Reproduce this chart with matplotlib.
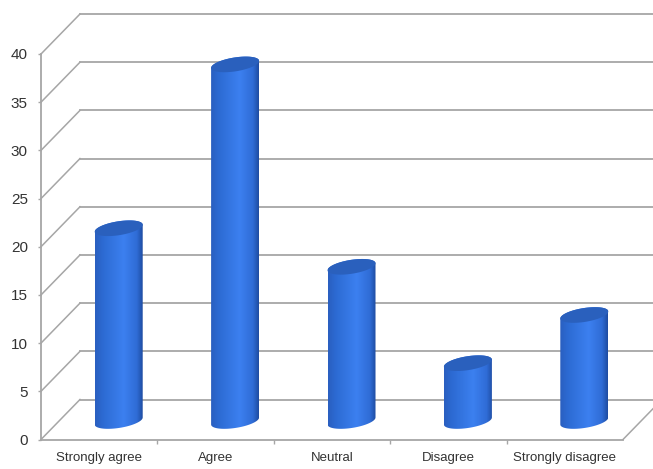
# 3D style cylinder column chart
import matplotlib
matplotlib.use('Agg')
import matplotlib.pyplot as plt
import numpy as np
from matplotlib.colors import LinearSegmentedColormap
from matplotlib.patches import PathPatch
from matplotlib.path import Path

categories = ['Strongly agree', 'Agree', 'Neutral', 'Disagree', 'Strongly disagree']
values = [20, 37, 16, 6, 11]
y_ticks = [0, 5, 10, 15, 20, 25, 30, 35, 40]

W, H = 653, 469
x_scale = (623 - 41) / 5   # px per category
y_scale = (439.5 - 54) / 40  # px per unit

# depth of the fake 3D floor, in data units
depth_x = 39 / x_scale
depth_y = 40 / y_scale

plt.rcParams['font.family'] = ['Liberation Sans', 'DejaVu Sans']

fig = plt.figure(figsize=(W / 100, H / 100), dpi=100)
ax = fig.add_axes([41 / W, 1 - 439.5 / H, 582 / W, 385.5 / H])
ax.patch.set_alpha(0)

grid_col = '#a6a6a6'
for t in y_ticks:
    ax.plot([0, depth_x], [t, t + depth_y], color=grid_col, lw=1.1, clip_on=False, zorder=1)
    ax.plot([depth_x, 5 + depth_x], [t + depth_y, t + depth_y], color=grid_col, lw=1.3,
            clip_on=False, zorder=1)
ax.plot([5, 5 + depth_x], [0, depth_y], color=grid_col, lw=1.1, clip_on=False, zorder=1)

cmap = LinearSegmentedColormap.from_list('cyl', [
    (0.0, '#2a5fc0'), (0.15, '#2c6ad2'), (0.6, '#3c80f0'),
    (0.88, '#2f6cd6'), (1.0, '#1f4da3')])
gradient = np.linspace(0, 1, 64).reshape(1, -1)

half_w = 24 / x_scale
tilt = 3.5 / y_scale   # rise of the ellipse from its left to centre
minor = 7 / y_scale

t = np.linspace(0, np.pi, 40)
for i, v in enumerate(values):
    cx = i + 0.5 + depth_x / 2
    base = depth_y / 2 - 1.5 / y_scale
    ex = cx + half_w * np.cos(t)
    # lower half of ellipse at bottom, upper half at the top
    low_y = base - minor * np.sin(t) + tilt * np.cos(t)
    top_y = base + v + minor * np.sin(t) + tilt * np.cos(t)
    verts = np.r_[np.c_[ex[::-1], low_y[::-1]], np.c_[ex, top_y], [[ex[-1], low_y[-1]]]]
    body = PathPatch(Path(verts), transform=ax.transData, fc='none', ec='none')
    ax.add_patch(body)
    im = ax.imshow(gradient, cmap=cmap, aspect='auto', zorder=3, clip_on=True,
                   extent=[cx - half_w, cx + half_w, base - minor - 1, base + v + minor + 1])
    im.set_clip_path(body)
    # cap of the cylinder
    a = np.linspace(0, 2 * np.pi, 80)
    ax.fill(cx + half_w * np.cos(a), base + v + minor * np.sin(a) + tilt * np.cos(a),
            color='#2a60bd', lw=0, zorder=4)

ax.set_xlim(0, 5)
ax.set_ylim(0, 40)

ax.set_yticks(y_ticks)
ax.set_xticks(np.arange(5) + 0.5)
ax.set_xticklabels(categories)
ax.set_xticks(np.arange(1, 5), minor=True)
ax.tick_params(axis='x', which='major', length=0, pad=9, labelsize=9.5, labelcolor='#333333')
ax.tick_params(axis='x', which='minor', length=3, width=1, color=grid_col)
ax.tick_params(axis='y', length=2.5, width=1, color=grid_col, pad=7, labelsize=11,
               labelcolor='#333333')
for side in ['top', 'right']:
    ax.spines[side].set_visible(False)
for side in ['left', 'bottom']:
    ax.spines[side].set_color(grid_col)
    ax.spines[side].set_linewidth(1.3)

fig.savefig('out.png', dpi=100)
